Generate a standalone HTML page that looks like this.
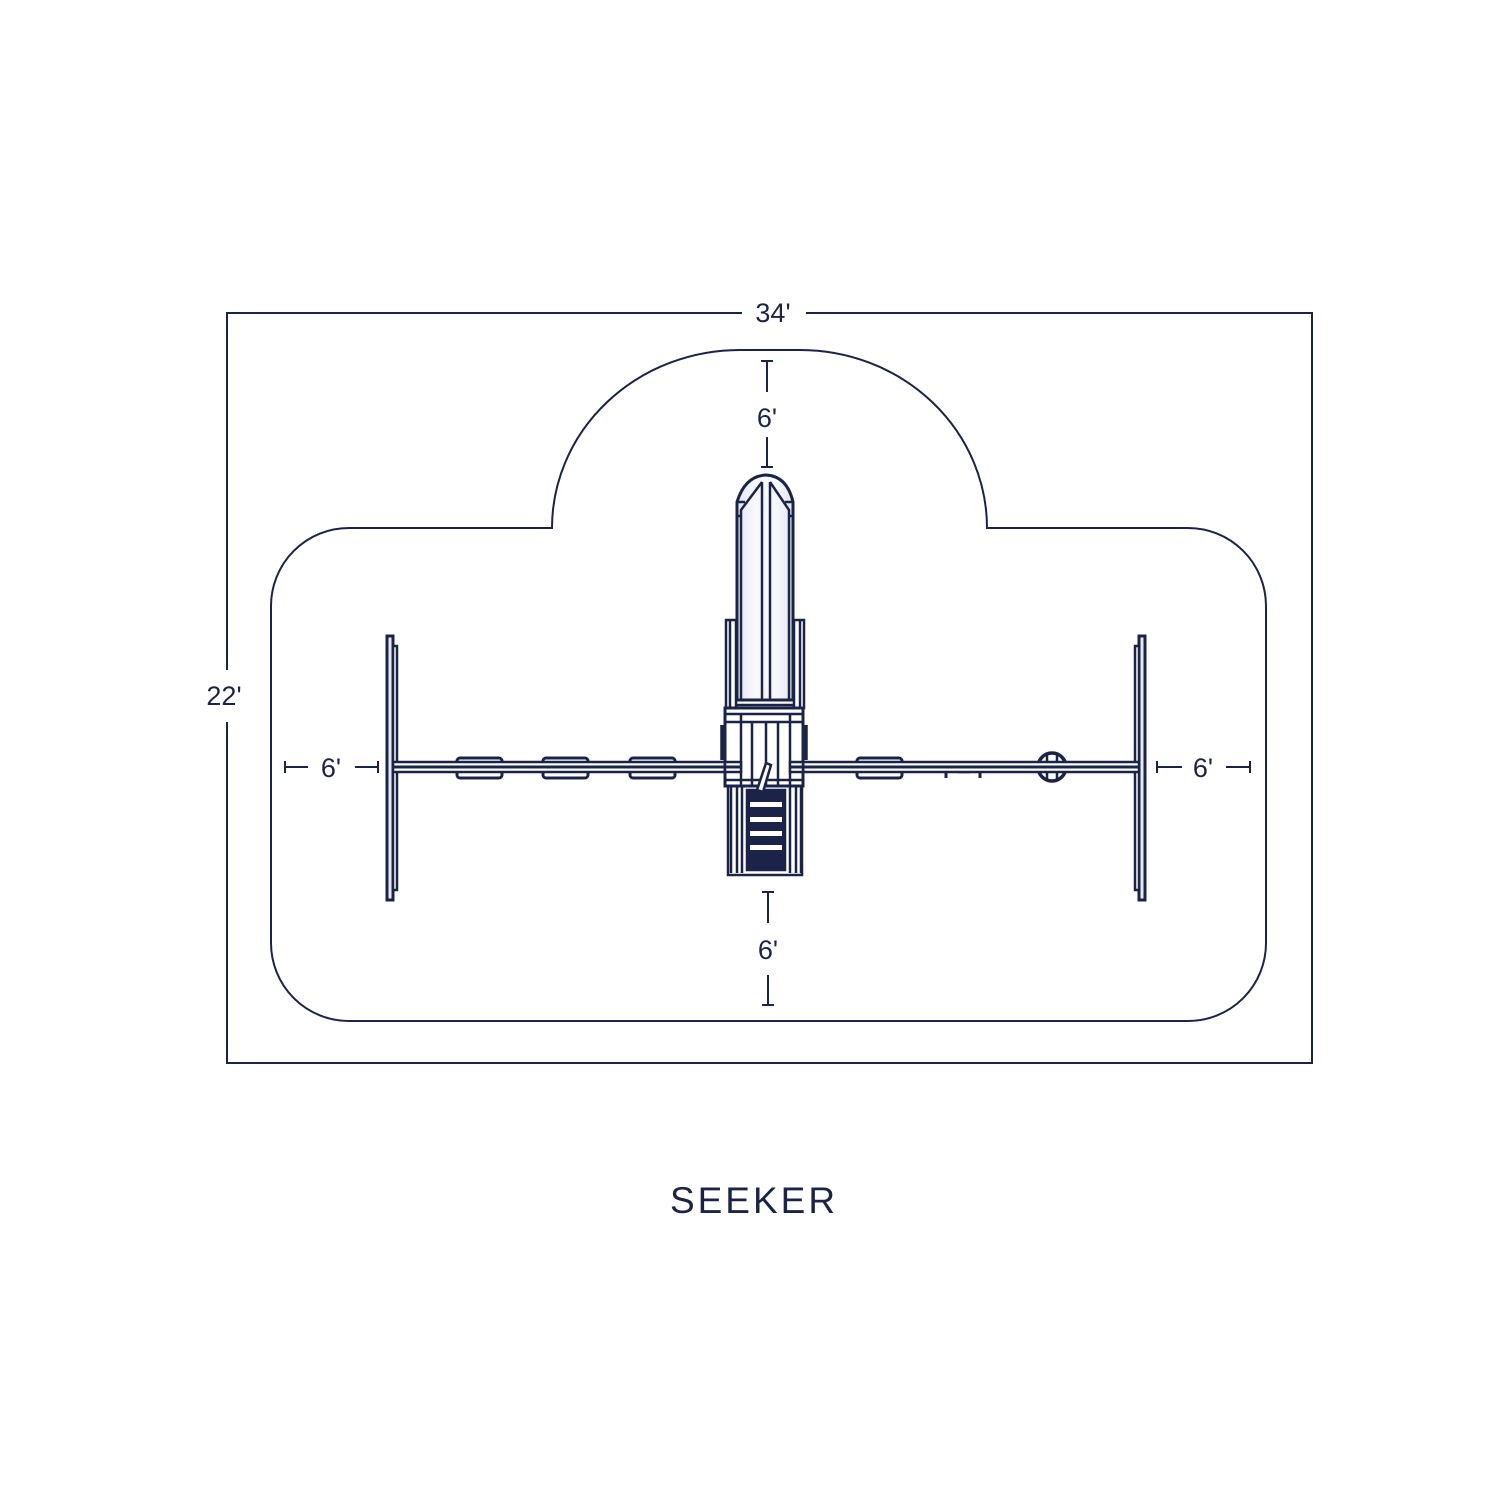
<!DOCTYPE html>
<html><head><meta charset="utf-8"><style>
html,body{margin:0;padding:0;background:#fff;}
svg{display:block;}
text{font-family:"Liberation Sans",sans-serif;fill:#1b2448;}
</style></head><body>
<svg width="1508" height="1508" viewBox="0 0 1508 1508" xmlns="http://www.w3.org/2000/svg">
<defs>
<linearGradient id="sg" x1="0" x2="1" y1="0" y2="0">
<stop offset="0" stop-color="#e2e5ee"/><stop offset="0.3" stop-color="#f7f8fb"/><stop offset="0.7" stop-color="#f7f8fb"/><stop offset="1" stop-color="#e2e5ee"/>
</linearGradient>
</defs>
<g fill="none" stroke="#1b2448" stroke-width="2">
<path d="M742,313 H227 V670 M227,722 V1063 H1312 V313 H806"/>
<path d="M552,528 A188,178 0 0 1 740,350 H800 A187,178 0 0 1 987,528 H1188 A78,78 0 0 1 1266,606 V943 A78,78 0 0 1 1188,1021 H349 A78,78 0 0 1 271,943 V606 A78,78 0 0 1 349,528 Z"/>
<path d="M767,361 V392 M761,361 H773 M767,437 V467 M761,467 H773"/>
<path d="M768,892 V923 M762,892 H774 M768,975 V1005 M762,1005 H774"/>
<path d="M285,767 H308 M285,761 V773 M355,767 H378 M378,761 V773"/>
<path d="M1157,767 H1182 M1157,761 V773 M1226,767 H1250 M1250,761 V773"/>
</g>
<g stroke="#1b2448" stroke-width="2.5" fill="none">
<rect x="387" y="636" width="6" height="264" fill="#e8eaf0" stroke-width="3"/>
<rect x="393" y="646" width="4" height="244" fill="#fff"/>
<rect x="1139" y="636" width="6" height="264" fill="#e8eaf0" stroke-width="3"/>
<rect x="1135" y="646" width="4" height="244" fill="#fff"/>
<rect x="457" y="758" width="45" height="20" rx="3" fill="#fff" stroke-width="3"/>
<rect x="543" y="758" width="45" height="20" rx="3" fill="#fff" stroke-width="3"/>
<rect x="630" y="758" width="45" height="20" rx="3" fill="#fff" stroke-width="3"/>
<rect x="857" y="758" width="45" height="20" rx="3" fill="#fff" stroke-width="3"/>
<path d="M946,767 V778 M980,767 V778" stroke-width="3"/>
<rect x="959" y="763" width="10" height="9" fill="#fff"/>
<circle cx="1052" cy="767" r="14" fill="#fff" stroke-width="3.5"/>
<path d="M1047,754 V780 M1057,754 V780"/>
<rect x="393" y="762" width="746" height="10" fill="#fff"/>
<path d="M393,767 H1139" stroke-width="3"/>
<rect x="728" y="785" width="74" height="90" fill="#fff"/>
<path d="M731,787 V873 M737,787 V873 M742,787 V873 M790,787 V873 M796,787 V873 M801,787 V873"/>
<rect x="747" y="790" width="38" height="80" fill="#1b2448"/>
<g fill="#fff" stroke="none">
<rect x="750" y="802" width="32" height="5"/><rect x="750" y="817" width="32" height="5"/>
<rect x="750" y="831" width="32" height="5"/><rect x="750" y="845" width="32" height="5"/>
</g>
<rect x="726" y="620" width="10" height="88" fill="#fff"/>
<rect x="794" y="620" width="10" height="88" fill="#fff"/>
<path d="M730,620 V708 M800,620 V708"/>
<rect x="725" y="708" width="78" height="78" fill="#fff" stroke-width="3"/>
<path d="M725,714 H803 M741,714 V785 M790,714 V785 M725,722 H803 M752,722 V785 M766,722 V785 M778,722 V785"/>
<path d="M725,780 H803"/>
<path d="M722,725 V760 M806,725 V760" stroke-width="3.5"/>
<rect x="725" y="762" width="16" height="10" fill="#fff"/>
<rect x="790" y="762" width="13" height="10" fill="#fff"/>
<path d="M725,767 H741 M790,767 H803" stroke-width="3"/>
<path d="M771,765 L763,792 L757,790 L766,763 Z" fill="#fff"/>
<path d="M737,700 V502 Q745,476 766,475 Q787,476 793,502 V700 Z" fill="url(#sg)" stroke-width="3"/>
<path d="M741,700 V510 L762,482 M789,700 V510 L770,482 M762,482 V700 M770,482 V700 M737,502 H745 M785,502 H793 M737,516 H741 M789,516 H793" fill="none"/>
<path d="M737,700 H793 M737,705 H793" fill="none"/>
</g>
<text x="773" y="322" font-size="27" text-anchor="middle">34'</text>
<text x="224" y="705" font-size="27" text-anchor="middle">22'</text>
<text x="767" y="427" font-size="27" text-anchor="middle">6'</text>
<text x="768" y="959" font-size="27" text-anchor="middle">6'</text>
<text x="331" y="777" font-size="27" text-anchor="middle">6'</text>
<text x="1203" y="777" font-size="27" text-anchor="middle">6'</text>
<text x="754" y="1213" font-size="37" text-anchor="middle" letter-spacing="3">SEEKER</text>
</svg>
</body></html>
